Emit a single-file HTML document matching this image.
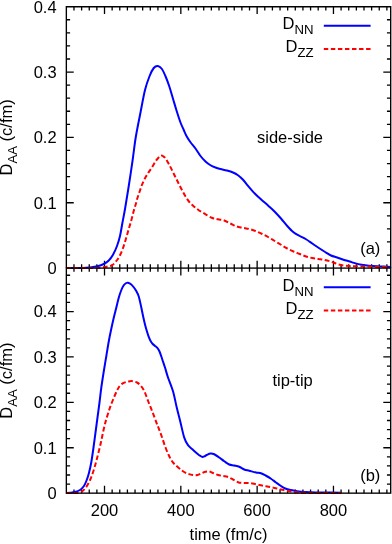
<!DOCTYPE html>
<html><head><meta charset="utf-8"><title>chart</title>
<style>html,body{margin:0;padding:0;background:#fff;}body{width:392px;height:544px;overflow:hidden;font-family:"Liberation Sans",sans-serif;}svg{display:block;will-change:transform;}</style>
</head><body>
<svg width="392" height="544" viewBox="0 0 392 544">
<rect width="392" height="544" fill="#fff"/>
<path d="M73.98 268.10L73.98 264.35M73.98 6.70L73.98 10.45M73.98 493.15L73.98 489.40M73.98 268.10L73.98 271.85M81.61 268.10L81.61 264.35M81.61 6.70L81.61 10.45M81.61 493.15L81.61 489.40M81.61 268.10L81.61 271.85M89.25 268.10L89.25 264.35M89.25 6.70L89.25 10.45M89.25 493.15L89.25 489.40M89.25 268.10L89.25 271.85M96.88 268.10L96.88 264.35M96.88 6.70L96.88 10.45M96.88 493.15L96.88 489.40M96.88 268.10L96.88 271.85M104.51 268.10L104.51 260.70M104.51 6.70L104.51 14.10M104.51 493.15L104.51 485.75M104.51 268.10L104.51 275.50M112.14 268.10L112.14 264.35M112.14 6.70L112.14 10.45M112.14 493.15L112.14 489.40M112.14 268.10L112.14 271.85M119.77 268.10L119.77 264.35M119.77 6.70L119.77 10.45M119.77 493.15L119.77 489.40M119.77 268.10L119.77 271.85M127.40 268.10L127.40 264.35M127.40 6.70L127.40 10.45M127.40 493.15L127.40 489.40M127.40 268.10L127.40 271.85M135.04 268.10L135.04 264.35M135.04 6.70L135.04 10.45M135.04 493.15L135.04 489.40M135.04 268.10L135.04 271.85M142.67 268.10L142.67 264.35M142.67 6.70L142.67 10.45M142.67 493.15L142.67 489.40M142.67 268.10L142.67 271.85M150.30 268.10L150.30 264.35M150.30 6.70L150.30 10.45M150.30 493.15L150.30 489.40M150.30 268.10L150.30 271.85M157.93 268.10L157.93 264.35M157.93 6.70L157.93 10.45M157.93 493.15L157.93 489.40M157.93 268.10L157.93 271.85M165.56 268.10L165.56 264.35M165.56 6.70L165.56 10.45M165.56 493.15L165.56 489.40M165.56 268.10L165.56 271.85M173.19 268.10L173.19 264.35M173.19 6.70L173.19 10.45M173.19 493.15L173.19 489.40M173.19 268.10L173.19 271.85M180.83 268.10L180.83 260.70M180.83 6.70L180.83 14.10M180.83 493.15L180.83 485.75M180.83 268.10L180.83 275.50M188.46 268.10L188.46 264.35M188.46 6.70L188.46 10.45M188.46 493.15L188.46 489.40M188.46 268.10L188.46 271.85M196.09 268.10L196.09 264.35M196.09 6.70L196.09 10.45M196.09 493.15L196.09 489.40M196.09 268.10L196.09 271.85M203.72 268.10L203.72 264.35M203.72 6.70L203.72 10.45M203.72 493.15L203.72 489.40M203.72 268.10L203.72 271.85M211.35 268.10L211.35 264.35M211.35 6.70L211.35 10.45M211.35 493.15L211.35 489.40M211.35 268.10L211.35 271.85M218.99 268.10L218.99 264.35M218.99 6.70L218.99 10.45M218.99 493.15L218.99 489.40M218.99 268.10L218.99 271.85M226.62 268.10L226.62 264.35M226.62 6.70L226.62 10.45M226.62 493.15L226.62 489.40M226.62 268.10L226.62 271.85M234.25 268.10L234.25 264.35M234.25 6.70L234.25 10.45M234.25 493.15L234.25 489.40M234.25 268.10L234.25 271.85M241.88 268.10L241.88 264.35M241.88 6.70L241.88 10.45M241.88 493.15L241.88 489.40M241.88 268.10L241.88 271.85M249.51 268.10L249.51 264.35M249.51 6.70L249.51 10.45M249.51 493.15L249.51 489.40M249.51 268.10L249.51 271.85M257.14 268.10L257.14 260.70M257.14 6.70L257.14 14.10M257.14 493.15L257.14 485.75M257.14 268.10L257.14 275.50M264.78 268.10L264.78 264.35M264.78 6.70L264.78 10.45M264.78 493.15L264.78 489.40M264.78 268.10L264.78 271.85M272.41 268.10L272.41 264.35M272.41 6.70L272.41 10.45M272.41 493.15L272.41 489.40M272.41 268.10L272.41 271.85M280.04 268.10L280.04 264.35M280.04 6.70L280.04 10.45M280.04 493.15L280.04 489.40M280.04 268.10L280.04 271.85M287.67 268.10L287.67 264.35M287.67 6.70L287.67 10.45M287.67 493.15L287.67 489.40M287.67 268.10L287.67 271.85M295.30 268.10L295.30 264.35M295.30 6.70L295.30 10.45M295.30 493.15L295.30 489.40M295.30 268.10L295.30 271.85M302.93 268.10L302.93 264.35M302.93 6.70L302.93 10.45M302.93 493.15L302.93 489.40M302.93 268.10L302.93 271.85M310.57 268.10L310.57 264.35M310.57 6.70L310.57 10.45M310.57 493.15L310.57 489.40M310.57 268.10L310.57 271.85M318.20 268.10L318.20 264.35M318.20 6.70L318.20 10.45M318.20 493.15L318.20 489.40M318.20 268.10L318.20 271.85M325.83 268.10L325.83 264.35M325.83 6.70L325.83 10.45M325.83 493.15L325.83 489.40M325.83 268.10L325.83 271.85M333.46 268.10L333.46 260.70M333.46 6.70L333.46 14.10M333.46 493.15L333.46 485.75M333.46 268.10L333.46 275.50M341.09 268.10L341.09 264.35M341.09 6.70L341.09 10.45M341.09 493.15L341.09 489.40M341.09 268.10L341.09 271.85M348.73 268.10L348.73 264.35M348.73 6.70L348.73 10.45M348.73 493.15L348.73 489.40M348.73 268.10L348.73 271.85M356.36 268.10L356.36 264.35M356.36 6.70L356.36 10.45M356.36 493.15L356.36 489.40M356.36 268.10L356.36 271.85M363.99 268.10L363.99 264.35M363.99 6.70L363.99 10.45M363.99 493.15L363.99 489.40M363.99 268.10L363.99 271.85M371.62 268.10L371.62 264.35M371.62 6.70L371.62 10.45M371.62 493.15L371.62 489.40M371.62 268.10L371.62 271.85M379.25 268.10L379.25 264.35M379.25 6.70L379.25 10.45M379.25 493.15L379.25 489.40M379.25 268.10L379.25 271.85M386.88 268.10L386.88 264.35M386.88 6.70L386.88 10.45M386.88 493.15L386.88 489.40M386.88 268.10L386.88 271.85M66.35 255.03L70.10 255.03M390.70 255.03L386.95 255.03M66.35 241.96L70.10 241.96M390.70 241.96L386.95 241.96M66.35 228.89L70.10 228.89M390.70 228.89L386.95 228.89M66.35 215.82L70.10 215.82M390.70 215.82L386.95 215.82M66.35 202.75L73.75 202.75M390.70 202.75L383.30 202.75M66.35 189.68L70.10 189.68M390.70 189.68L386.95 189.68M66.35 176.61L70.10 176.61M390.70 176.61L386.95 176.61M66.35 163.54L70.10 163.54M390.70 163.54L386.95 163.54M66.35 150.47L70.10 150.47M390.70 150.47L386.95 150.47M66.35 137.40L73.75 137.40M390.70 137.40L383.30 137.40M66.35 124.33L70.10 124.33M390.70 124.33L386.95 124.33M66.35 111.26L70.10 111.26M390.70 111.26L386.95 111.26M66.35 98.19L70.10 98.19M390.70 98.19L386.95 98.19M66.35 85.12L70.10 85.12M390.70 85.12L386.95 85.12M66.35 72.05L73.75 72.05M390.70 72.05L383.30 72.05M66.35 58.98L70.10 58.98M390.70 58.98L386.95 58.98M66.35 45.91L70.10 45.91M390.70 45.91L386.95 45.91M66.35 32.84L70.10 32.84M390.70 32.84L386.95 32.84M66.35 19.77L70.10 19.77M390.70 19.77L386.95 19.77M66.35 484.07L70.10 484.07M390.70 484.07L386.95 484.07M66.35 474.99L70.10 474.99M390.70 474.99L386.95 474.99M66.35 465.91L70.10 465.91M390.70 465.91L386.95 465.91M66.35 456.83L70.10 456.83M390.70 456.83L386.95 456.83M66.35 447.75L73.75 447.75M390.70 447.75L383.30 447.75M66.35 438.67L70.10 438.67M390.70 438.67L386.95 438.67M66.35 429.59L70.10 429.59M390.70 429.59L386.95 429.59M66.35 420.51L70.10 420.51M390.70 420.51L386.95 420.51M66.35 411.43L70.10 411.43M390.70 411.43L386.95 411.43M66.35 402.35L73.75 402.35M390.70 402.35L383.30 402.35M66.35 393.27L70.10 393.27M390.70 393.27L386.95 393.27M66.35 384.19L70.10 384.19M390.70 384.19L386.95 384.19M66.35 375.11L70.10 375.11M390.70 375.11L386.95 375.11M66.35 366.03L70.10 366.03M390.70 366.03L386.95 366.03M66.35 356.95L73.75 356.95M390.70 356.95L383.30 356.95M66.35 347.87L70.10 347.87M390.70 347.87L386.95 347.87M66.35 338.79L70.10 338.79M390.70 338.79L386.95 338.79M66.35 329.71L70.10 329.71M390.70 329.71L386.95 329.71M66.35 320.63L70.10 320.63M390.70 320.63L386.95 320.63M66.35 311.55L73.75 311.55M390.70 311.55L383.30 311.55M66.35 302.47L70.10 302.47M390.70 302.47L386.95 302.47M66.35 293.39L70.10 293.39M390.70 293.39L386.95 293.39M66.35 284.31L70.10 284.31M390.70 284.31L386.95 284.31M66.35 275.23L70.10 275.23M390.70 275.23L386.95 275.23" fill="none" stroke="#000" stroke-width="1.3"/>
<g fill="none" stroke-linejoin="round" stroke-linecap="butt" stroke-width="2.0">
<path d="M66.40 268.00 C69.08 267.98 78.57 268.00 82.50 267.90 C86.43 267.80 87.50 267.67 90.00 267.40 C92.50 267.12 95.21 266.82 97.50 266.25 C99.79 265.68 101.88 264.96 103.75 264.00 C105.62 263.04 107.21 262.04 108.75 260.50 C110.29 258.96 111.62 257.17 113.00 254.75 C114.38 252.33 115.83 249.12 117.00 246.00 C118.17 242.88 119.12 239.75 120.00 236.00 C120.88 232.25 121.45 228.08 122.30 223.50 C123.15 218.92 124.02 214.75 125.10 208.50 C126.17 202.25 127.52 193.92 128.75 186.00 C129.98 178.08 131.33 169.12 132.50 161.00 C133.67 152.88 134.42 145.33 135.75 137.25 C137.08 129.17 138.96 120.38 140.50 112.50 C142.04 104.62 143.50 96.04 145.00 90.00 C146.50 83.96 148.04 79.92 149.50 76.25 C150.96 72.58 152.37 69.71 153.75 68.00 C155.13 66.29 156.47 65.88 157.80 66.00 C159.13 66.12 160.47 67.04 161.75 68.75 C163.03 70.46 164.25 73.33 165.50 76.25 C166.75 79.17 168.00 82.50 169.25 86.25 C170.50 90.00 171.75 94.58 173.00 98.75 C174.25 102.92 175.50 107.29 176.75 111.25 C178.00 115.21 179.33 119.38 180.50 122.50 C181.67 125.62 182.71 127.67 183.75 130.00 C184.79 132.33 185.62 134.46 186.75 136.50 C187.88 138.54 189.04 140.25 190.50 142.25 C191.96 144.25 193.83 146.21 195.50 148.50 C197.17 150.79 198.83 153.83 200.50 156.00 C202.17 158.17 203.83 159.96 205.50 161.50 C207.17 163.04 208.83 164.25 210.50 165.25 C212.17 166.25 213.83 166.88 215.50 167.50 C217.17 168.12 218.62 168.50 220.50 169.00 C222.38 169.50 224.67 169.92 226.75 170.50 C228.83 171.08 231.12 171.71 233.00 172.50 C234.88 173.29 236.33 174.05 238.00 175.25 C239.67 176.45 241.33 177.94 243.00 179.70 C244.67 181.46 245.92 183.37 248.00 185.80 C250.08 188.23 253.12 191.87 255.50 194.30 C257.88 196.73 260.08 198.47 262.25 200.40 C264.42 202.33 266.42 204.02 268.50 205.90 C270.58 207.78 272.67 209.60 274.75 211.70 C276.83 213.80 278.92 216.12 281.00 218.50 C283.08 220.88 285.17 223.71 287.25 226.00 C289.33 228.29 291.42 230.58 293.50 232.25 C295.58 233.92 297.67 234.83 299.75 236.00 C301.83 237.17 303.92 238.00 306.00 239.25 C308.08 240.50 310.17 242.08 312.25 243.50 C314.33 244.92 316.42 246.38 318.50 247.75 C320.58 249.12 322.67 250.46 324.75 251.75 C326.83 253.04 328.92 254.54 331.00 255.50 C333.08 256.46 335.17 256.79 337.25 257.50 C339.33 258.21 341.42 259.08 343.50 259.75 C345.58 260.42 348.00 260.98 349.75 261.50 C351.50 262.02 352.04 262.36 354.00 262.90 C355.96 263.44 359.00 264.27 361.50 264.75 C364.00 265.23 366.08 265.53 369.00 265.80 C371.92 266.07 375.42 266.22 379.00 266.40 C382.58 266.58 388.58 266.82 390.50 266.90" stroke="#00f"/>
<path d="M66.40 268.00 C71.33 267.98 89.98 268.02 96.00 267.90 C102.02 267.78 100.58 267.53 102.50 267.30 C104.42 267.07 105.83 266.88 107.50 266.50 C109.17 266.12 110.93 266.04 112.50 265.00 C114.07 263.96 115.55 262.08 116.90 260.25 C118.25 258.42 119.46 256.39 120.60 254.00 C121.74 251.61 122.81 248.61 123.75 245.90 C124.69 243.19 125.42 240.57 126.25 237.75 C127.08 234.93 127.89 231.96 128.75 229.00 C129.61 226.04 130.58 223.00 131.40 220.00 C132.22 217.00 132.97 213.67 133.70 211.00 C134.43 208.33 135.15 206.25 135.80 204.00 C136.45 201.75 136.94 199.62 137.60 197.50 C138.26 195.38 139.03 193.33 139.75 191.25 C140.47 189.17 141.07 187.08 141.90 185.00 C142.73 182.92 143.72 180.73 144.75 178.75 C145.78 176.77 146.91 174.97 148.10 173.10 C149.29 171.22 150.65 169.47 151.90 167.50 C153.15 165.53 154.37 163.03 155.60 161.25 C156.83 159.47 158.32 157.74 159.30 156.80 C160.28 155.86 160.72 155.58 161.50 155.60 C162.28 155.62 163.21 156.27 164.00 156.90 C164.79 157.53 165.25 157.84 166.25 159.40 C167.25 160.96 168.75 163.86 170.00 166.25 C171.25 168.64 172.50 171.25 173.75 173.75 C175.00 176.25 176.25 178.75 177.50 181.25 C178.75 183.75 180.00 186.36 181.25 188.75 C182.50 191.14 183.75 193.52 185.00 195.60 C186.25 197.68 187.40 199.57 188.75 201.25 C190.10 202.93 191.54 204.29 193.10 205.70 C194.66 207.11 196.32 208.45 198.10 209.70 C199.88 210.95 201.47 211.86 203.75 213.20 C206.03 214.54 209.38 216.74 211.75 217.75 C214.12 218.76 215.92 218.79 218.00 219.25 C220.08 219.71 222.17 219.79 224.25 220.50 C226.33 221.21 228.42 222.50 230.50 223.50 C232.58 224.50 234.67 225.79 236.75 226.50 C238.83 227.21 240.92 227.33 243.00 227.75 C245.08 228.17 247.17 228.46 249.25 229.00 C251.33 229.54 253.33 230.17 255.50 231.00 C257.67 231.83 260.08 232.96 262.25 234.00 C264.42 235.04 266.42 236.08 268.50 237.25 C270.58 238.42 272.67 239.75 274.75 241.00 C276.83 242.25 278.92 243.50 281.00 244.75 C283.08 246.00 285.17 247.38 287.25 248.50 C289.33 249.62 291.42 250.58 293.50 251.50 C295.58 252.42 297.67 253.17 299.75 254.00 C301.83 254.83 303.92 255.83 306.00 256.50 C308.08 257.17 310.17 257.58 312.25 258.00 C314.33 258.42 316.42 258.67 318.50 259.00 C320.58 259.33 322.67 259.57 324.75 260.00 C326.83 260.43 328.92 260.93 331.00 261.60 C333.08 262.27 335.17 263.35 337.25 264.00 C339.33 264.65 341.42 265.15 343.50 265.50 C345.58 265.85 348.00 265.98 349.75 266.10 C351.50 266.23 352.04 266.20 354.00 266.25 C355.96 266.30 359.00 266.34 361.50 266.40 C364.00 266.46 366.25 266.52 369.00 266.60 C371.75 266.68 374.42 266.78 378.00 266.90 C381.58 267.02 388.42 267.23 390.50 267.30" stroke="#f00" stroke-dasharray="4.8 2.5"/>
<path d="M66.40 493.00 C67.00 492.96 68.57 492.92 70.00 492.75 C71.43 492.58 73.33 492.46 75.00 492.00 C76.67 491.54 78.54 490.96 80.00 490.00 C81.46 489.04 82.71 487.71 83.75 486.25 C84.79 484.79 85.42 483.33 86.25 481.25 C87.08 479.17 87.92 476.88 88.75 473.75 C89.58 470.62 90.46 466.88 91.25 462.50 C92.04 458.12 92.79 452.50 93.50 447.50 C94.21 442.50 94.83 437.50 95.50 432.50 C96.17 427.50 96.83 422.50 97.50 417.50 C98.17 412.50 98.88 407.42 99.50 402.50 C100.12 397.58 100.54 393.17 101.25 388.00 C101.96 382.83 102.92 376.75 103.75 371.50 C104.58 366.25 105.42 361.50 106.25 356.50 C107.08 351.50 107.92 346.08 108.75 341.50 C109.58 336.92 110.42 332.96 111.25 329.00 C112.08 325.04 112.92 321.29 113.75 317.75 C114.58 314.21 115.42 311.08 116.25 307.75 C117.08 304.42 117.92 300.67 118.75 297.75 C119.58 294.83 120.42 292.33 121.25 290.25 C122.08 288.17 122.92 286.46 123.75 285.25 C124.58 284.04 125.54 283.42 126.25 283.00 C126.96 282.58 127.17 282.50 128.00 282.75 C128.83 283.00 130.29 283.75 131.25 284.50 C132.21 285.25 132.92 286.17 133.75 287.25 C134.58 288.33 135.42 289.46 136.25 291.00 C137.08 292.54 137.92 293.80 138.75 296.50 C139.58 299.20 140.53 303.91 141.25 307.20 C141.97 310.49 142.47 313.38 143.10 316.25 C143.72 319.12 144.37 321.90 145.00 324.40 C145.63 326.90 146.28 329.17 146.90 331.25 C147.53 333.33 148.13 335.27 148.75 336.90 C149.37 338.52 149.97 339.86 150.60 341.00 C151.22 342.14 151.77 342.93 152.50 343.75 C153.23 344.57 154.17 345.17 155.00 345.90 C155.83 346.62 156.77 347.21 157.50 348.10 C158.23 348.99 158.78 349.89 159.40 351.25 C160.03 352.61 160.63 354.48 161.25 356.25 C161.87 358.02 162.47 360.02 163.10 361.90 C163.72 363.77 164.18 364.90 165.00 367.50 C165.82 370.10 166.67 373.54 168.00 377.50 C169.33 381.46 171.54 386.25 173.00 391.25 C174.46 396.25 175.50 402.29 176.75 407.50 C178.00 412.71 179.25 417.48 180.50 422.50 C181.75 427.52 183.00 433.82 184.25 437.60 C185.50 441.38 186.54 443.17 188.00 445.20 C189.46 447.23 191.33 448.30 193.00 449.80 C194.67 451.30 196.75 453.17 198.00 454.20 C199.25 455.23 199.78 455.55 200.50 456.00 C201.22 456.45 201.67 456.83 202.30 456.90 C202.93 456.97 203.56 456.72 204.30 456.40 C205.04 456.08 205.72 455.48 206.75 455.00 C207.78 454.52 209.25 453.62 210.50 453.50 C211.75 453.38 212.79 453.58 214.25 454.25 C215.71 454.92 217.58 456.33 219.25 457.50 C220.92 458.67 222.58 460.08 224.25 461.25 C225.92 462.42 227.58 463.79 229.25 464.50 C230.92 465.21 232.58 465.12 234.25 465.50 C235.92 465.88 237.58 466.08 239.25 466.75 C240.92 467.42 242.58 468.83 244.25 469.50 C245.92 470.17 247.29 470.25 249.25 470.75 C251.21 471.25 254.04 472.08 256.00 472.50 C257.96 472.92 259.33 472.71 261.00 473.25 C262.67 473.79 264.33 474.83 266.00 475.75 C267.67 476.67 269.33 477.62 271.00 478.75 C272.67 479.88 274.33 481.29 276.00 482.50 C277.67 483.71 279.33 484.96 281.00 486.00 C282.67 487.04 284.33 488.08 286.00 488.75 C287.67 489.42 289.33 489.62 291.00 490.00 C292.67 490.38 294.33 490.71 296.00 491.00 C297.67 491.29 298.50 491.54 301.00 491.75 C303.50 491.96 307.67 492.12 311.00 492.25 C314.33 492.38 316.00 492.42 321.00 492.50 C326.00 492.58 337.67 492.71 341.00 492.75" stroke="#00f"/>
<path d="M66.40 493.00 C68.04 493.00 73.98 493.12 76.25 493.00 C78.52 492.88 78.96 492.62 80.00 492.30 C81.04 491.98 81.43 492.03 82.50 491.10 C83.57 490.18 85.08 488.73 86.40 486.75 C87.72 484.77 89.20 481.96 90.40 479.25 C91.60 476.54 92.53 473.83 93.60 470.50 C94.67 467.17 95.65 463.62 96.80 459.25 C97.95 454.88 99.67 447.76 100.50 444.25 C101.33 440.74 101.00 441.79 101.80 438.20 C102.60 434.61 103.93 427.82 105.30 422.70 C106.67 417.58 108.80 411.12 110.00 407.50 C111.20 403.88 111.67 403.08 112.50 401.00 C113.33 398.92 114.17 396.90 115.00 395.00 C115.83 393.10 116.77 391.03 117.50 389.60 C118.23 388.17 118.67 387.35 119.40 386.40 C120.13 385.45 120.97 384.57 121.90 383.90 C122.83 383.23 123.98 382.78 125.00 382.40 C126.02 382.02 126.88 381.82 128.00 381.60 C129.12 381.38 130.21 380.95 131.70 381.10 C133.19 381.25 135.45 381.73 136.95 382.50 C138.45 383.27 139.45 384.25 140.70 385.75 C141.95 387.25 143.20 388.92 144.45 391.50 C145.70 394.08 146.91 397.96 148.20 401.25 C149.49 404.54 150.91 407.91 152.20 411.25 C153.49 414.59 154.87 418.46 155.95 421.30 C157.03 424.14 157.73 425.77 158.70 428.30 C159.67 430.83 160.62 433.30 161.75 436.50 C162.88 439.70 164.25 444.21 165.50 447.50 C166.75 450.79 168.00 453.75 169.25 456.25 C170.50 458.75 171.54 460.68 173.00 462.50 C174.46 464.32 176.33 465.74 178.00 467.20 C179.67 468.66 181.33 470.16 183.00 471.25 C184.67 472.34 186.33 473.12 188.00 473.75 C189.67 474.38 191.42 474.79 193.00 475.00 C194.58 475.21 196.04 475.29 197.50 475.00 C198.96 474.71 200.42 473.79 201.75 473.25 C203.08 472.71 204.25 472.04 205.50 471.75 C206.75 471.46 208.00 471.29 209.25 471.50 C210.50 471.71 211.54 472.42 213.00 473.00 C214.46 473.58 216.33 474.50 218.00 475.00 C219.67 475.50 221.33 475.67 223.00 476.00 C224.67 476.33 226.33 476.42 228.00 477.00 C229.67 477.58 231.33 478.63 233.00 479.50 C234.67 480.37 236.33 481.62 238.00 482.20 C239.67 482.78 241.12 482.87 243.00 483.00 C244.88 483.13 247.08 482.79 249.25 483.00 C251.42 483.21 254.04 483.88 256.00 484.25 C257.96 484.62 259.33 484.92 261.00 485.25 C262.67 485.58 264.33 485.92 266.00 486.25 C267.67 486.58 269.33 486.92 271.00 487.25 C272.67 487.58 274.33 487.88 276.00 488.25 C277.67 488.62 279.33 489.12 281.00 489.50 C282.67 489.88 284.33 490.17 286.00 490.50 C287.67 490.83 289.33 491.21 291.00 491.50 C292.67 491.79 293.92 492.04 296.00 492.25 C298.08 492.46 299.33 492.62 303.50 492.75 C307.67 492.88 314.75 492.96 321.00 493.00 C327.25 493.04 337.67 493.00 341.00 493.00" stroke="#f00" stroke-dasharray="4.8 2.5"/>
<path d="M323.8 25.80H370.6" stroke="#00f"/>
<path d="M323.8 49.10H370.6" stroke="#f00" stroke-dasharray="4.45 2.6"/>
<path d="M323.8 287.30H370.6" stroke="#00f"/>
<path d="M323.8 310.60H370.6" stroke="#f00" stroke-dasharray="4.45 2.6"/>
</g>
<g fill="none" stroke="#000">
<path d="M66.35 268.10V6.70H390.70V268.10" stroke-width="1.35" stroke-linejoin="miter"/>
<rect x="66.35" y="268.10" width="324.35" height="225.05" stroke-width="1.35"/>
</g>
<g font-family="'Liberation Sans', sans-serif" font-size="16.50" fill="#000">
<text x="56.60" y="274.01" text-anchor="end">0</text>
<text x="56.60" y="208.66" text-anchor="end">0.1</text>
<text x="56.60" y="143.31" text-anchor="end">0.2</text>
<text x="56.60" y="77.96" text-anchor="end">0.3</text>
<text x="56.60" y="12.61" text-anchor="end">0.4</text>
<text x="56.60" y="499.06" text-anchor="end">0</text>
<text x="56.60" y="453.66" text-anchor="end">0.1</text>
<text x="56.60" y="408.26" text-anchor="end">0.2</text>
<text x="56.60" y="362.86" text-anchor="end">0.3</text>
<text x="56.60" y="317.46" text-anchor="end">0.4</text>
<text x="104.51" y="515.60" text-anchor="middle">200</text>
<text x="180.83" y="515.60" text-anchor="middle">400</text>
<text x="257.14" y="515.60" text-anchor="middle">600</text>
<text x="333.46" y="515.60" text-anchor="middle">800</text>
<text x="228.52" y="540.40" text-anchor="middle">time (fm/c)</text>
<text x="290.00" y="143.30" text-anchor="middle">side-side</text>
<text x="292.60" y="385.50" text-anchor="middle">tip-tip</text>
<text x="370.30" y="253.60" text-anchor="middle">(a)</text>
<text x="370.30" y="480.60" text-anchor="middle">(b)</text>
<text x="313.6" y="29.30" text-anchor="end">D<tspan font-size="13.20" dy="4.9">NN</tspan></text>
<text x="313.6" y="51.90" text-anchor="end">D<tspan font-size="13.20" dy="4.9">ZZ</tspan></text>
<text x="313.6" y="291.05" text-anchor="end">D<tspan font-size="13.20" dy="4.9">NN</tspan></text>
<text x="313.6" y="313.65" text-anchor="end">D<tspan font-size="13.20" dy="4.9">ZZ</tspan></text>
<text transform="translate(12.2 137.40) rotate(-90)" text-anchor="middle">D<tspan font-size="13.20" dy="4.9">AA</tspan><tspan dy="-4.9"> (c/fm)</tspan></text>
<text transform="translate(12.2 380.62) rotate(-90)" text-anchor="middle">D<tspan font-size="13.20" dy="4.9">AA</tspan><tspan dy="-4.9"> (c/fm)</tspan></text>
</g></svg>
</body></html>
